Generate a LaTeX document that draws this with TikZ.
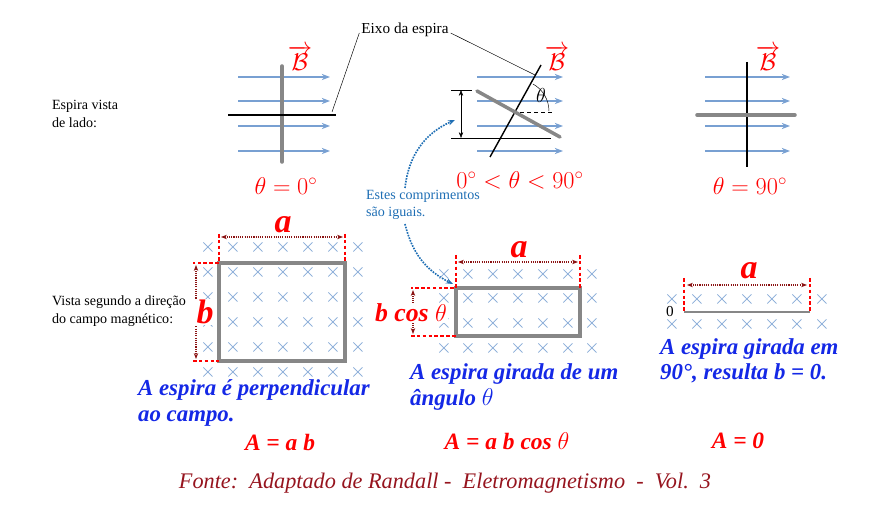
\documentclass[tikz,border=0pt]{standalone}
\usepackage{fontspec}
\setmainfont{Liberation Serif}
\usetikzlibrary{arrows.meta}
\definecolor{fieldblue}{RGB}{120,160,210}
\definecolor{loopgray}{RGB}{135,135,135}
\definecolor{dimred}{RGB}{140,20,20}
\definecolor{notered}{RGB}{150,20,30}
\definecolor{textblue}{RGB}{20,40,230}
\definecolor{hintblue}{RGB}{30,110,180}
\tikzset{
  fieldline/.style = {draw = fieldblue, line width = 1.3pt, -{Stealth[length = 7pt]}},
  loopbar/.style = {draw = loopgray, line width = 3pt, line cap = round},
  axisline/.style = {draw = black, line width = 1.2pt},
  cutmark/.style = {draw = red, densely dashed, line width = 1.2pt},
  dimarrow/.style = {draw = dimred, densely dotted, line width = 0.9pt, {Stealth[length = 5pt]}-{Stealth[length = 5pt]}},
  crossmark/.style = {font = \fontsize{17}{17}\selectfont, text = fieldblue},
  redlabel/.style = {text = red, font = \fontsize{20}{22}\selectfont},
  biglabel/.style = {text = red, font = \fontsize{29}{30}\selectfont\bfseries\itshape},
  bluenote/.style = {text = textblue, font = \fontsize{19.5}{21.5}\selectfont\bfseries\itshape, align = left, anchor = west},
  sidenote/.style = {font = \fontsize{12}{15}\selectfont, align = left, anchor = west},
  bfield/.style = {text = red, font = \fontsize{20}{22}\selectfont}
}
\newcommand{\bvec}{$\overrightarrow{\mathcal{B}}$}
\begin{document}
\begin{tikzpicture}[x = 0.03cm, y = -0.03cm]
\useasboundingbox (0,0) rectangle (882,508);
% side view
\node[sidenote] (side) at (48,114) {Espira vista\\de lado:};
\foreach \yy in {77,101,126,151} {
  \draw[fieldline] (238,\yy) -- (330,\yy);
  \draw[fieldline] (477,\yy) -- (563,\yy);
  \draw[fieldline] (705,\yy) -- (790,\yy);
}
\draw[loopbar] (282,66) -- (282,162);
\draw[axisline] (228,115) coordinate (axA) -- (336,115) coordinate (axAend);
\node[bfield] (bA) at (300,58) {\bvec};
\node[redlabel] (thA) at (286,186) {$\theta = 0^\circ$};
% tilted loop
\draw[axisline] (490,157) -- (541,65) coordinate (axBend);
\draw[loopbar] (477,91) -- (560,137);
\draw[dashed] (520,112) -- (553,112);
\draw (533,84) arc[start angle = -61, end angle = 0, radius = 31] ;
\node[font = \fontsize{17}{17}\selectfont] (thB) at (541,95) {$\theta$};
\node[bfield] (bB) at (557,58) {\bvec};
\draw (451,90) coordinate (dTop) -- (472,90);
\draw (451,138) coordinate (dBot) -- (551,138);
\draw[{Stealth[length = 5pt]}-{Stealth[length = 5pt]}] (461,90) -- (461,138);
\node[redlabel] (thMid) at (520,180) {$0^\circ < \theta < 90^\circ$};
% perpendicular loop
\draw[axisline] (747,62) -- (747,167);
\draw[loopbar] (697,115) -- (795,115);
\node[bfield] (bC) at (768,58) {\bvec};
\node[redlabel] (thC) at (750,186) {$\theta = 90^\circ$};
% axis label
\node[font = \fontsize{13}{15}\selectfont] (eixo) at (405,30) {Eixo da espira};
\draw (eixo.west) ++(2,3) -- (332,112);
\draw (eixo.east) ++(-2,3) -- (535,75);
% hint
\node[sidenote, text = hintblue] (hint) at (362,205) {Estes comprimentos\\são iguais.};
\draw[hintblue, densely dotted, line width = 1.4pt, -{Stealth[length = 6pt]}] (405,188) to[bend left = 30] (455,120);
\draw[hintblue, densely dotted, line width = 1.4pt, -{Stealth[length = 6pt]}] (405,224) to[bend right = 25] (453,284);
% field view
\node[sidenote] (front) at (48,311) {Vista segundo a direção\\do campo magnético:};
\foreach \xx in {208,233,258,283,308,333,358}
  \foreach \yy in {247,272,297,322,347,372}
    \node[crossmark] at (\xx,\yy) {$\times$};
\foreach \xx in {444,468,493,518,543,568,592}
  \foreach \yy in {274,298,323,348}
    \node[crossmark] at (\xx,\yy) {$\times$};
\foreach \xx in {672,697,722,747,772,797,822}
  \foreach \yy in {299,324}
    \node[crossmark] at (\xx,\yy) {$\times$};
% first loop
\draw[draw = loopgray, line width = 2.6pt] (219,263) rectangle (345,361);
\draw[cutmark] (219,234) -- (219,263) -- (193,263);
\draw[cutmark] (345,234) -- (345,263);
\draw[cutmark] (193,361) -- (219,361);
\draw[dimarrow] (221,237) -- (343,237);
\draw[dimarrow] (196,265) -- (196,359);
\node[biglabel] (aA) at (283,225) {a};
\node[biglabel, fill = white, inner sep = 1pt] (bbA) at (205,312) {b};
% second loop
\draw[draw = loopgray, line width = 2.6pt] (456,288) rectangle (580,336);
\draw[cutmark] (456,255) -- (456,288) -- (411,288);
\draw[cutmark] (580,255) -- (580,288);
\draw[cutmark] (411,336) -- (456,336);
\draw[dimarrow] (458,262) -- (578,262);
\draw[dimarrow] (413,290) -- (413,334);
\node[biglabel] (aB) at (519,250) {a};
\node[biglabel, font = \fontsize{22}{24}\selectfont\bfseries\itshape, fill = white, inner sep = 1pt] (bbB) at (411,313) {b cos $\theta$};
% third loop
\draw[loopbar, line width = 2.4pt, line cap = butt] (684,312) -- (810,312);
\draw[cutmark] (684,278) -- (684,312);
\draw[cutmark] (810,278) -- (810,312);
\draw[dimarrow] (687,285) -- (807,285);
\node[biglabel] (aC) at (749,271) {a};
\node[font = \fontsize{13}{13}\selectfont, fill = white, inner sep = 0.5pt] (zero) at (670,312) {0};
% notes
\node[bluenote] (noteA) at (134,403) {A espira é perpendicular\\ao campo.};
\node[bluenote] (noteB) at (406,387) {A espira girada de um\\ângulo $\theta$};
\node[bluenote] (noteC) at (656,361) {A espira girada em\\90°, resulta b = 0.};
\node[redlabel, font = \fontsize{20}{22}\selectfont\bfseries\itshape] (areaA) at (280,443) {A = a b};
\node[redlabel, font = \fontsize{20}{22}\selectfont\bfseries\itshape] (areaB) at (507,441) {A = a b cos $\theta$};
\node[redlabel, font = \fontsize{20}{22}\selectfont\bfseries\itshape] (areaC) at (738,441) {A = 0};
\node[text = notered, font = \fontsize{19}{21}\selectfont\itshape] (fonte) at (445,483) {Fonte:\ \ Adaptado de Randall - \ Eletromagnetismo \ - \ Vol.\ \ 3};
\end{tikzpicture}
\end{document}
